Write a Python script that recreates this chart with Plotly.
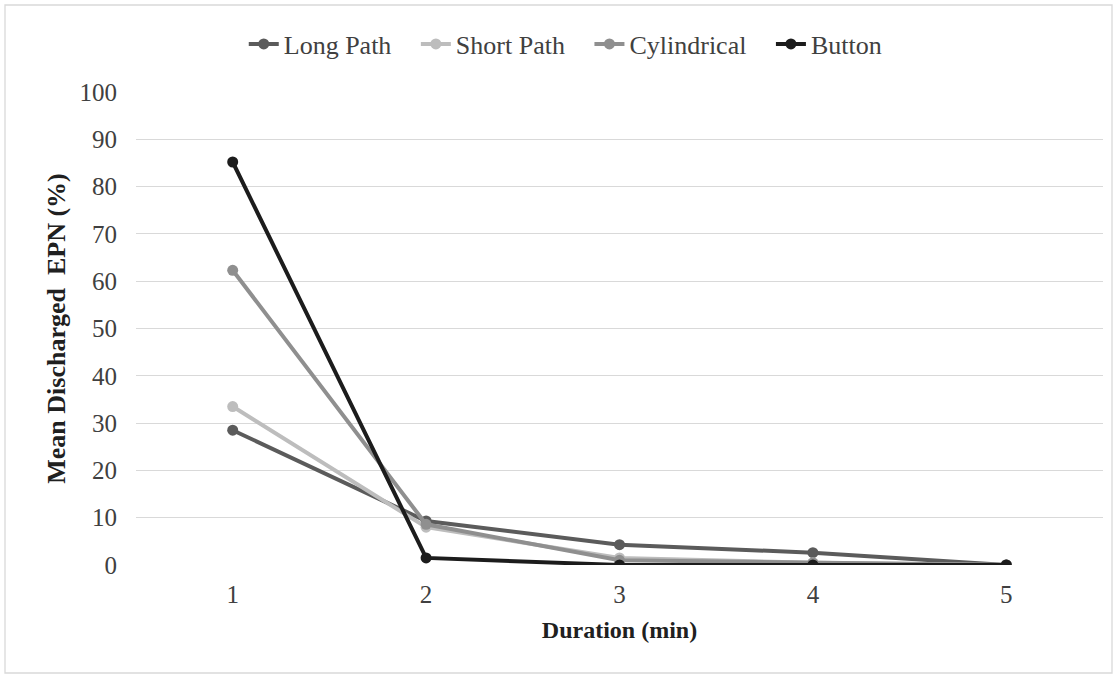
import plotly.graph_objects as go

durations = ["1", "2", "3", "4", "5"]
long_path = [28.5, 9.3, 4.3, 2.6, 0]
short_path = [33.5, 8.0, 1.5, 0.5, 0]
cylindrical = [62.3, 8.6, 1.0, 0.4, 0]
button = [85.2, 1.5, 0, 0, 0]

series = [
    ("Long Path", long_path, "#5b5b5b"),
    ("Short Path", short_path, "#bdbdbd"),
    ("Cylindrical", cylindrical, "#8f8f8f"),
    ("Button", button, "#1c1c1c"),
]

pad = "\u00a0\u00a0\u00a0"
fig = go.Figure()
for name, vals, color in series:
    fig.add_trace(go.Scatter(
        x=durations, y=vals, name=name + pad, mode="lines+markers",
        line=dict(color=color, width=4),
        marker=dict(color=color, size=11),
    ))

W, H = 1117, 678
ml, mr, mt, mb = 136, 14, 92, 113
pw, ph = W - ml - mr, H - mt - mb
serif = "Liberation Serif, Times New Roman, serif"

fig.update_layout(
    width=W, height=H,
    margin=dict(l=ml, r=mr, t=mt, b=mb),
    paper_bgcolor="white", plot_bgcolor="white",
    font=dict(family=serif, size=25, color="#404040"),
    legend=dict(orientation="h", xref="container", x=0.515, xanchor="center",
                yref="container", y=1 - 44 / H, yanchor="middle",
                font=dict(family=serif, size=26, color="#404040"), itemwidth=30, traceorder="normal"),
    xaxis=dict(type="category", range=[-0.5, 4.5], showgrid=False, showline=False, zeroline=False,
               ticks="", ticklabelstandoff=12, tickfont=dict(family=serif, size=25, color="#404040"),
               title=dict(text="<b>Duration (min)</b>", font=dict(family=serif, size=24, color="#202020"), standoff=14)),
    yaxis=dict(range=[0, 100], dtick=10, showgrid=True, gridcolor="#d9d9d9", gridwidth=1.3,
               zeroline=False, showline=False, ticks="", ticklabelstandoff=18,
               tickfont=dict(family=serif, size=25, color="#404040"),
               title=dict(text="<b>Mean Discharged  EPN (%)</b>", font=dict(family=serif, size=26, color="#202020"), standoff=6)),
    shapes=[dict(type="rect", xref="paper", yref="paper",
                 x0=(5 - ml) / pw, x1=(W - 5 - ml) / pw,
                 y0=-(mb - 5) / ph, y1=1 + (mt - 5) / ph,
                 line=dict(color="#d9d9d9", width=1.3), fillcolor="rgba(0,0,0,0)", layer="below")],
)

fig.write_html("out.html")
